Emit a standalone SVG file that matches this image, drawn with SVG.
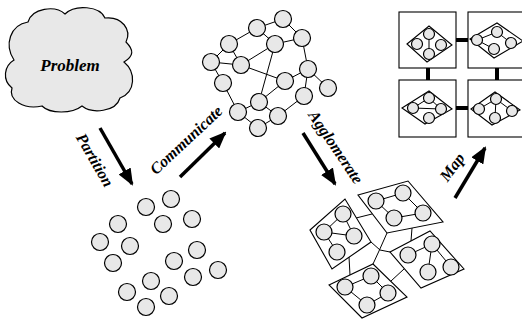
<svg xmlns="http://www.w3.org/2000/svg" width="522" height="320" viewBox="0 0 522 320">
<defs>
<style>
.c{fill:#e8e8e8;stroke:#000;stroke-width:1.2}
.l{stroke:#000;stroke-width:1;fill:none}
.q{fill:#fff;stroke:#000;stroke-width:1.1}
.sq{fill:#fff;stroke:#000;stroke-width:1.1}
.bar{stroke:#000;stroke-width:4}
.arr{stroke:#000;stroke-width:3.5;fill:none;marker-end:url(#ah)}
.t{font-family:"Liberation Serif","Times New Roman",serif;font-weight:bold;font-style:italic;font-size:16px;fill:#000;text-anchor:middle;dominant-baseline:central}
</style>
<marker id="ah" markerWidth="17" markerHeight="14" refX="15" refY="7" orient="auto" markerUnits="userSpaceOnUse"><path d="M0,0 L17,7 L0,14 z" fill="#000"/></marker>
</defs>
<rect width="522" height="320" fill="#fff"/>

<g id="problem">
<path class="c" d="M14,60 C4,45 10,25 28,22 C32,8 55,5 65,14 C75,4 100,6 105,18 C122,16 132,30 126,42 C134,50 134,56 124,62 C136,72 136,92 120,98 C116,112 92,114 82,106 C72,114 50,114 42,106 C24,110 8,100 12,88 C2,80 4,66 14,60 Z"/>
<text class="t" x="70" y="65" style="font-size:17px">Problem</text>
</g>

<g id="partition">
<circle class="c" cx="171" cy="199" r="8.5"/>
<circle class="c" cx="146" cy="207" r="8.5"/>
<circle class="c" cx="192" cy="219" r="8.5"/>
<circle class="c" cx="163" cy="224" r="8.5"/>
<circle class="c" cx="118" cy="224" r="8.5"/>
<circle class="c" cx="100" cy="242" r="8.5"/>
<circle class="c" cx="130" cy="246" r="8.5"/>
<circle class="c" cx="197" cy="250" r="8.5"/>
<circle class="c" cx="113" cy="263" r="8.5"/>
<circle class="c" cx="174" cy="261" r="8.5"/>
<circle class="c" cx="218" cy="270" r="8.5"/>
<circle class="c" cx="193" cy="277" r="8.5"/>
<circle class="c" cx="151" cy="281" r="8.5"/>
<circle class="c" cx="127" cy="292" r="8.5"/>
<circle class="c" cx="169" cy="296" r="8.5"/>
<circle class="c" cx="146" cy="307" r="8.5"/>
</g>

<g id="communicate-graph">
<g class="l">
<line x1="283" y1="19" x2="257" y2="28"/>
<line x1="283" y1="19" x2="302" y2="38"/>
<line x1="257" y1="28" x2="229" y2="44"/>
<line x1="257" y1="28" x2="275" y2="44"/>
<line x1="302" y1="38" x2="275" y2="44"/>
<line x1="302" y1="38" x2="308" y2="69"/>
<line x1="229" y1="44" x2="211" y2="62"/>
<line x1="229" y1="44" x2="241" y2="65"/>
<line x1="211" y1="62" x2="241" y2="65"/>
<line x1="241" y1="65" x2="275" y2="44"/>
<line x1="211" y1="62" x2="223" y2="83"/>
<line x1="241" y1="65" x2="285" y2="81"/>
<line x1="275" y1="44" x2="259" y2="102"/>
<line x1="308" y1="69" x2="285" y2="81"/>
<line x1="308" y1="69" x2="304" y2="96"/>
<line x1="308" y1="69" x2="328" y2="88"/>
<line x1="285" y1="81" x2="259" y2="102"/>
<line x1="304" y1="96" x2="278" y2="116"/>
<line x1="223" y1="83" x2="238" y2="112"/>
<line x1="238" y1="112" x2="259" y2="102"/>
<line x1="259" y1="102" x2="278" y2="116"/>
<line x1="238" y1="112" x2="258" y2="128"/>
<line x1="258" y1="128" x2="278" y2="116"/>
</g>
<circle class="c" cx="283" cy="19" r="8.5"/>
<circle class="c" cx="257" cy="28" r="8.5"/>
<circle class="c" cx="302" cy="38" r="8.5"/>
<circle class="c" cx="229" cy="44" r="8.5"/>
<circle class="c" cx="275" cy="44" r="8.5"/>
<circle class="c" cx="211" cy="62" r="8.5"/>
<circle class="c" cx="241" cy="65" r="8.5"/>
<circle class="c" cx="308" cy="69" r="8.5"/>
<circle class="c" cx="223" cy="83" r="8.5"/>
<circle class="c" cx="285" cy="81" r="8.5"/>
<circle class="c" cx="328" cy="88" r="8.5"/>
<circle class="c" cx="304" cy="96" r="8.5"/>
<circle class="c" cx="259" cy="102" r="8.5"/>
<circle class="c" cx="238" cy="112" r="8.5"/>
<circle class="c" cx="278" cy="116" r="8.5"/>
<circle class="c" cx="258" cy="128" r="8.5"/>
</g>

<g id="agglomerate">
<g class="l">
<line x1="356" y1="218" x2="372" y2="214"/>
<polyline points="387,233 379,251 373,264"/>
<polyline points="371,242 380,250 390,252"/>
<line x1="412" y1="228" x2="411" y2="241"/>
<line x1="349" y1="257" x2="350" y2="275"/>
<line x1="391" y1="281" x2="404" y2="269"/>
</g>
<g id="agg-1">
<polygon class="q" points="310,230 345,199 371,242 332,269"/>
<g class="l">
<line x1="343" y1="214" x2="324" y2="232"/><line x1="324" y1="232" x2="354" y2="236"/><line x1="343" y1="214" x2="354" y2="236"/><line x1="324" y1="232" x2="337" y2="252"/>
</g>
<circle class="c" cx="343" cy="214" r="8"/><circle class="c" cx="324" cy="232" r="8"/><circle class="c" cx="354" cy="236" r="8"/><circle class="c" cx="337" cy="252" r="8"/>
</g>
<g id="agg-2">
<polygon class="q" points="358,195 408,181 443,222 387,233"/>
<g class="l">
<line x1="376" y1="201" x2="403" y2="193"/><line x1="376" y1="201" x2="394" y2="218"/><line x1="394" y1="218" x2="423" y2="213"/><line x1="403" y1="193" x2="423" y2="213"/>
</g>
<circle class="c" cx="376" cy="201" r="8"/><circle class="c" cx="403" cy="193" r="8"/><circle class="c" cx="394" cy="218" r="8"/><circle class="c" cx="423" cy="213" r="8"/>
</g>
<g id="agg-3">
<polygon class="q" points="390,252 430,231 464,269 421,288"/>
<g class="l">
<line x1="408" y1="255" x2="432" y2="244"/><line x1="432" y1="244" x2="428" y2="272"/><line x1="432" y1="244" x2="451" y2="267"/>
</g>
<circle class="c" cx="408" cy="255" r="8"/><circle class="c" cx="432" cy="244" r="8"/><circle class="c" cx="428" cy="272" r="8"/><circle class="c" cx="451" cy="267" r="8"/>
</g>
<g id="agg-4">
<polygon class="q" points="329,285 373,264 407,297 362,318"/>
<g class="l">
<line x1="345" y1="287" x2="371" y2="276"/><line x1="345" y1="287" x2="367" y2="305"/><line x1="367" y1="305" x2="388" y2="293"/><line x1="371" y1="276" x2="388" y2="293"/>
</g>
<circle class="c" cx="345" cy="287" r="8"/><circle class="c" cx="371" cy="276" r="8"/><circle class="c" cx="388" cy="293" r="8"/><circle class="c" cx="367" cy="305" r="8"/>
</g>
</g>

<g id="map">
<line class="bar" x1="456" y1="40" x2="468" y2="40"/>
<line class="bar" x1="456" y1="108" x2="468" y2="108"/>
<line class="bar" x1="428" y1="68" x2="428" y2="80"/>
<line class="bar" x1="497" y1="68" x2="497" y2="80"/>
<g id="map-tl">
<rect class="sq" x="399" y="12" width="57" height="56"/>
<polygon class="q" points="407,44 429,26 452,45 427,62"/>
<line class="l" x1="429" y1="34" x2="429" y2="54"/>
<circle class="c" cx="429" cy="34" r="5.5"/><circle class="c" cx="417" cy="44" r="5.5"/><circle class="c" cx="441" cy="45" r="5.5"/><circle class="c" cx="429" cy="54" r="5.5"/>
</g>
<g id="map-tr">
<rect class="sq" x="468" y="12" width="57" height="56"/>
<polygon class="q" points="470,39 497,23 523,41 494,58"/>
<g class="l"><line x1="477" y1="40" x2="497" y2="32"/><line x1="497" y1="32" x2="511" y2="43"/><line x1="477" y1="40" x2="494" y2="49"/></g>
<circle class="c" cx="477" cy="40" r="5.5"/><circle class="c" cx="497" cy="32" r="5.5"/><circle class="c" cx="511" cy="43" r="5.5"/><circle class="c" cx="494" cy="49" r="5.5"/>
</g>
<g id="map-bl">
<rect class="sq" x="399" y="80" width="57" height="57"/>
<polygon class="q" points="402,108 429,91 452,109 425,124"/>
<g class="l"><line x1="413" y1="108" x2="429" y2="98"/><line x1="429" y1="98" x2="441" y2="109"/><line x1="413" y1="108" x2="441" y2="109"/></g>
<circle class="c" cx="413" cy="108" r="5.5"/><circle class="c" cx="429" cy="98" r="5.5"/><circle class="c" cx="441" cy="109" r="5.5"/><circle class="c" cx="429" cy="118" r="5.5"/>
</g>
<g id="map-br">
<rect class="sq" x="468" y="80" width="57" height="57"/>
<polygon class="q" points="471,109 495,92 520,110 492,125"/>
<g class="l"><line x1="479" y1="109" x2="496" y2="99"/><line x1="496" y1="99" x2="495" y2="118"/><line x1="496" y1="99" x2="512" y2="111"/></g>
<circle class="c" cx="479" cy="109" r="5.5"/><circle class="c" cx="496" cy="99" r="5.5"/><circle class="c" cx="512" cy="111" r="5.5"/><circle class="c" cx="495" cy="118" r="5.5"/>
</g>
</g>

<g id="connectors">
<line class="arr" x1="100" y1="128" x2="132" y2="184"/>
<line class="arr" x1="180" y1="177" x2="225" y2="133"/>
<line class="arr" x1="303" y1="133" x2="335" y2="184"/>
<line class="arr" x1="455" y1="198" x2="485" y2="148"/>
<text class="t" transform="translate(95,160) rotate(60)">Partition</text>
<text class="t" transform="translate(186,140) rotate(-43)">Communicate</text>
<text class="t" transform="translate(336,147) rotate(56)">Agglomerate</text>
<text class="t" transform="translate(452,167) rotate(-54)">Map</text>
</g>
</svg>
